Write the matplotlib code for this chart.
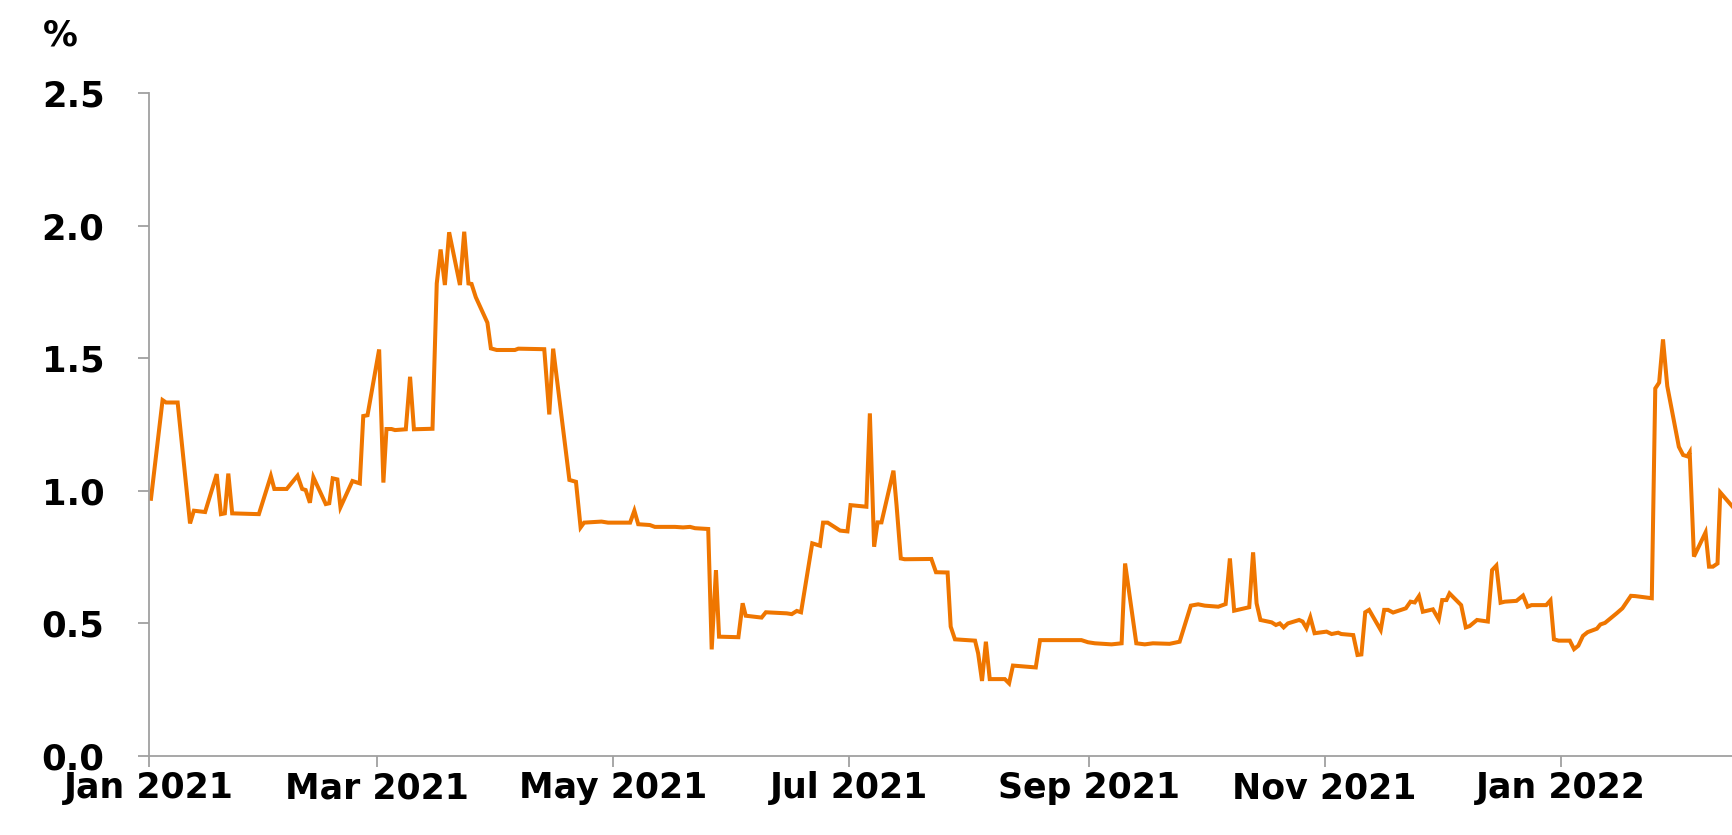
import numpy as np
import datetime as dt
import matplotlib
matplotlib.use("Agg")
import matplotlib.pyplot as plt
import matplotlib.dates as mdates

# day offsets from 1 Jan 2021, and the rate in %
days = [0.5, 3.5, 4.4, 7.4, 10.6, 11.6, 14.5, 17.5, 18.6, 19.6, 20.5, 21.5, 28.4,
        31.5, 32.4, 35.6, 38.4, 39.6, 40.5, 41.6, 42.5, 45.7, 46.6, 47.5, 48.7,
        49.5, 52.6, 54.5, 55.4, 56.5, 59.5, 60.6, 61.4, 62.7, 63.6, 66.4, 67.5,
        68.5, 73.3, 74.4, 75.4, 76.5, 77.6, 80.4, 81.5, 82.6, 83.4, 84.5, 87.5,
        88.4, 89.9, 94.6, 95.5, 102.2, 103.5, 104.5, 108.7, 110.4, 111.6, 112.5,
        117.0, 118.7, 124.4, 125.5, 126.5, 129.5, 130.8, 136.0, 138.1, 139.9,
        141.2, 144.6, 145.5, 146.6, 147.4, 152.4, 153.5, 154.3, 158.4, 159.5,
        164.9, 166.2, 167.5, 168.6, 171.5, 173.5, 174.3, 175.5, 178.7, 180.6,
        181.4, 185.5, 186.4, 187.5, 188.4, 189.4, 192.5, 193.3, 194.4, 195.4,
        202.3, 203.5, 206.5, 207.3, 208.4, 213.6, 214.4, 215.4, 216.4, 217.4,
        221.3, 222.4, 223.4, 229.3, 230.4, 241.1, 242.8, 244.6, 248.9, 251.5,
        252.4, 255.3, 257.5, 259.6, 263.9, 266.5, 269.4, 271.3, 273.0, 276.5,
        278.4, 279.5, 280.6, 284.5, 285.5, 286.4, 287.4, 290.3, 291.4, 292.4,
        293.4, 294.5, 297.4, 298.3, 299.3, 300.3, 301.4, 304.5, 305.8, 307.5,
        308.3, 311.4, 312.5, 313.5, 314.5, 315.5, 318.5, 319.4, 320.4, 321.7,
        325.0, 326.2, 327.3, 328.4, 329.4, 332.0, 333.5, 334.4, 335.5, 336.3,
        339.3, 340.5, 341.5, 343.4, 346.2, 347.3, 348.4, 349.5, 350.6, 353.6,
        355.3, 356.5, 357.5, 361.3, 362.4, 363.3, 364.5, 367.4, 368.5, 369.6,
        370.8, 372.0, 374.4, 375.3, 376.5, 379.5, 381.0, 383.2, 384.3, 388.6,
        389.5, 390.5, 391.5, 392.6, 395.6, 396.7, 397.8, 398.4, 399.5, 402.5,
        403.4, 404.4, 405.6, 406.3, 409.5]
rate = [0.97, 1.342, 1.333, 1.333, 0.877, 0.925, 0.92, 1.063, 0.912, 0.915, 1.065,
        0.915, 0.912, 1.056, 1.007, 1.007, 1.057, 1.007, 1.003, 0.955, 1.051, 0.95,
        0.953, 1.047, 1.043, 0.938, 1.037, 1.028, 1.282, 1.285, 1.533, 1.031, 1.233,
        1.233, 1.229, 1.232, 1.43, 1.232, 1.234, 1.782, 1.91, 1.776, 1.975, 1.776,
        1.977, 1.782, 1.78, 1.73, 1.634, 1.537, 1.531, 1.531, 1.536, 1.534, 1.288,
        1.536, 1.041, 1.034, 0.862, 0.88, 0.884, 0.88, 0.88, 0.925, 0.874, 0.871,
        0.864, 0.864, 0.862, 0.864, 0.859, 0.856, 0.402, 0.701, 0.45, 0.448, 0.576,
        0.529, 0.522, 0.542, 0.538, 0.535, 0.547, 0.542, 0.802, 0.793, 0.88, 0.88,
        0.85, 0.847, 0.946, 0.94, 1.292, 0.789, 0.881, 0.881, 1.076, 0.946, 0.745,
        0.742, 0.743, 0.693, 0.692, 0.488, 0.44, 0.435, 0.387, 0.283, 0.431, 0.29,
        0.29, 0.274, 0.341, 0.334, 0.437, 0.437, 0.429, 0.425, 0.421, 0.425, 0.726,
        0.425, 0.421, 0.425, 0.423, 0.431, 0.567, 0.572, 0.567, 0.563, 0.573, 0.745,
        0.548, 0.561, 0.768, 0.576, 0.513, 0.504, 0.494, 0.5, 0.485, 0.5, 0.513,
        0.507, 0.482, 0.523, 0.463, 0.469, 0.46, 0.465, 0.46, 0.456, 0.381, 0.383,
        0.542, 0.551, 0.475, 0.551, 0.551, 0.541, 0.557, 0.582, 0.579, 0.603, 0.544,
        0.553, 0.515, 0.588, 0.588, 0.613, 0.569, 0.485, 0.49, 0.513, 0.507, 0.701,
        0.718, 0.578, 0.582, 0.585, 0.605, 0.563, 0.569, 0.569, 0.587, 0.44, 0.435,
        0.435, 0.403, 0.416, 0.453, 0.467, 0.48, 0.496, 0.502, 0.538, 0.557, 0.604,
        0.603, 0.595, 1.386, 1.408, 1.571, 1.395, 1.166, 1.135, 1.13, 1.145, 0.752,
        0.843, 0.714, 0.714, 0.726, 0.994, 0.94]

yticks = [0.0, 0.5, 1.0, 1.5, 2.0, 2.5]

start = mdates.date2num(dt.datetime(2021, 1, 1))
x = start + np.array(days)

fig = plt.figure(figsize=(17.33, 8.35), dpi=100)
ax = fig.add_axes([0.086, 0.0946, 0.914, 0.794])

ax.plot(x, rate, color="#EF7600", lw=2.9, solid_joinstyle="miter")

ax.set_xlim(start, start + 409.6)
ax.set_ylim(0, 2.5)
ax.set_yticks(yticks)
ax.set_yticklabels([f"{t:.1f}" for t in yticks])
ax.xaxis.set_major_locator(mdates.MonthLocator(bymonth=[1, 3, 5, 7, 9, 11]))
ax.xaxis.set_major_formatter(mdates.DateFormatter("%b %Y"))

for s in ["top", "right"]:
    ax.spines[s].set_visible(False)
for s in ["left", "bottom"]:
    ax.spines[s].set_color("#A0A0A0")
    ax.spines[s].set_linewidth(1.3)

ax.tick_params(axis="both", colors="#A0A0A0", length=8, width=1.3,
               labelcolor="black", labelsize=25.5)
ax.tick_params(axis="y", pad=24)
ax.tick_params(axis="x", pad=3, labelsize=25)
for lab in ax.get_xticklabels() + ax.get_yticklabels():
    lab.set_fontweight("bold")

fig.text(0.025, 0.957, "%", fontsize=25, fontweight="bold", va="center", ha="left")

fig.savefig("out.png", dpi=100)
